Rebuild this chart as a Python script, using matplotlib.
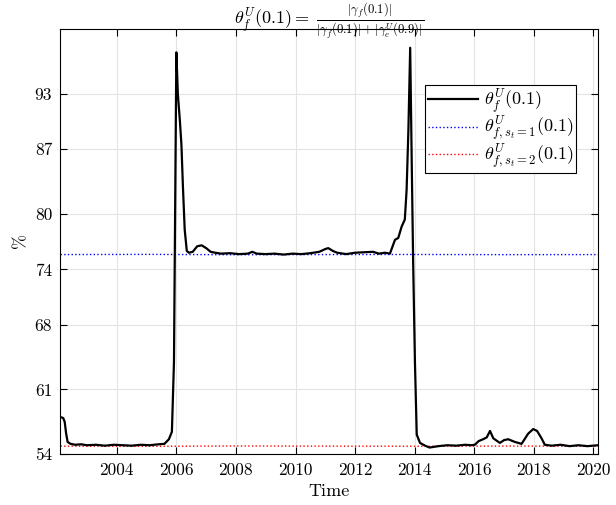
import matplotlib
matplotlib.use('Agg')
import matplotlib.pyplot as plt

plt.rcParams['font.family'] = 'serif'
plt.rcParams['font.serif'] = ['cmr10']
plt.rcParams['mathtext.fontset'] = 'cm'
plt.rcParams['axes.unicode_minus'] = False

# black line: theta_f^U(0.1)
years = [2002.11, 2002.20, 2002.25, 2002.30, 2002.35, 2002.45, 2002.6, 2002.8, 2003.0, 2003.3,
         2003.6, 2003.9, 2004.2, 2004.5, 2004.8, 2005.1, 2005.4, 2005.6, 2005.75, 2005.85,
         2005.92, 2005.97, 2006.0, 2006.05, 2006.12, 2006.17, 2006.22, 2006.28, 2006.35, 2006.42,
         2006.55, 2006.7, 2006.85, 2007.0, 2007.15, 2007.3, 2007.5, 2007.8, 2008.1, 2008.4,
         2008.55, 2008.7, 2009.0, 2009.3, 2009.6, 2009.9, 2010.2, 2010.5, 2010.8, 2011.0,
         2011.1, 2011.25, 2011.4, 2011.7, 2012.0, 2012.3, 2012.6, 2012.8, 2013.0, 2013.17,
         2013.34, 2013.45, 2013.56, 2013.67, 2013.73, 2013.79, 2013.85, 2013.9, 2013.95, 2014.01,
         2014.07, 2014.18, 2014.35, 2014.5, 2014.8, 2015.1, 2015.4, 2015.7, 2015.9, 2016.02,
         2016.15, 2016.30, 2016.42, 2016.53, 2016.64, 2016.86, 2017.0, 2017.14, 2017.37, 2017.59,
         2017.75, 2017.81, 2017.98, 2018.11, 2018.26, 2018.37, 2018.6, 2018.9, 2019.2, 2019.5,
         2019.8, 2020.16]
theta = [58.0, 57.9, 57.5, 56.2, 55.3, 55.1, 55.0, 55.05, 54.95, 55.0,
         54.9, 55.0, 54.95, 54.9, 55.0, 54.95, 55.05, 55.1, 55.6, 56.4,
         64.0, 85.0, 97.5, 93.0, 90.0, 87.5, 83.0, 78.3, 76.0, 75.8,
         75.9, 76.5, 76.6, 76.3, 75.9, 75.8, 75.7, 75.75, 75.65, 75.7,
         75.9, 75.7, 75.65, 75.7, 75.6, 75.7, 75.65, 75.75, 75.9, 76.2,
         76.3, 76.0, 75.8, 75.65, 75.8, 75.85, 75.9, 75.7, 75.8, 75.7,
         77.2, 77.4, 78.6, 79.4, 82.6, 89.1, 98.0, 86.0, 74.7, 63.9,
         56.1, 55.2, 54.9, 54.7, 54.85, 54.95, 54.9, 55.0, 54.95, 55.0,
         55.4, 55.6, 55.8, 56.5, 55.7, 55.2, 55.5, 55.6, 55.3, 55.1,
         55.9, 56.2, 56.7, 56.5, 55.7, 55.0, 54.9, 55.0, 54.85, 54.95,
         54.85, 54.95]

# regime lines
regime_years = [2002.11, 2005.0, 2008.0, 2011.0, 2014.0, 2017.0, 2020.16]
theta_s1 = [75.6, 75.62, 75.58, 75.6, 75.61, 75.59, 75.6]
theta_s2 = [54.85, 54.83, 54.87, 54.85, 54.84, 54.86, 54.85]

yticks = [54, 61, 68, 74, 80, 87, 93]
xticks = [2004, 2006, 2008, 2010, 2012, 2014, 2016, 2018, 2020]

fig = plt.figure(figsize=(6.16, 5.05), dpi=100)
ax = fig.add_axes([0.0982, 0.101, 0.8728, 0.841])

ax.plot(years, theta, color='black', lw=1.6, label=r'$\theta^U_f(0.1)$', zorder=3)
ax.plot(regime_years, theta_s1, color='blue', lw=1.0, ls=':', label=r'$\theta^U_{f,s_t=1}(0.1)$')
ax.plot(regime_years, theta_s2, color='red', lw=1.0, ls=':', label=r'$\theta^U_{f,s_t=2}(0.1)$')

ax.set_xlim(2002.11, 2020.16)
ax.set_ylim(54, 100)
ax.set_xticks(xticks)
ax.set_xticklabels([str(x) for x in xticks])
ax.set_yticks(yticks)
ax.set_yticklabels([str(y) for y in yticks])
ax.tick_params(direction='in', top=True, right=True, labelsize=12.5, length=5, width=0.8, pad=6)
ax.grid(True, color='#e3e3e3', lw=0.8)
ax.set_axisbelow(True)
for s in ax.spines.values():
    s.set_linewidth(0.8)

ax.set_xlabel('Time', fontsize=13)
ax.set_ylabel(r'$\%$', fontsize=13)
ax.set_title(r'$\theta^U_f(0.1) =\;\frac{|\gamma_f(0.1)|}{|\gamma_f(0.1)|+|\gamma^U_e(0.9)|}$',
             fontsize=13, pad=3.5)

leg = ax.legend(loc='upper left', bbox_to_anchor=(0.678, 0.869), fontsize=13, fancybox=False,
                edgecolor='black', framealpha=1, handlelength=2.8, labelspacing=-0.05,
                borderpad=0.15, handletextpad=0.3, borderaxespad=0)
leg.get_frame().set_linewidth(0.8)

fig.savefig('out.png', dpi=100)
